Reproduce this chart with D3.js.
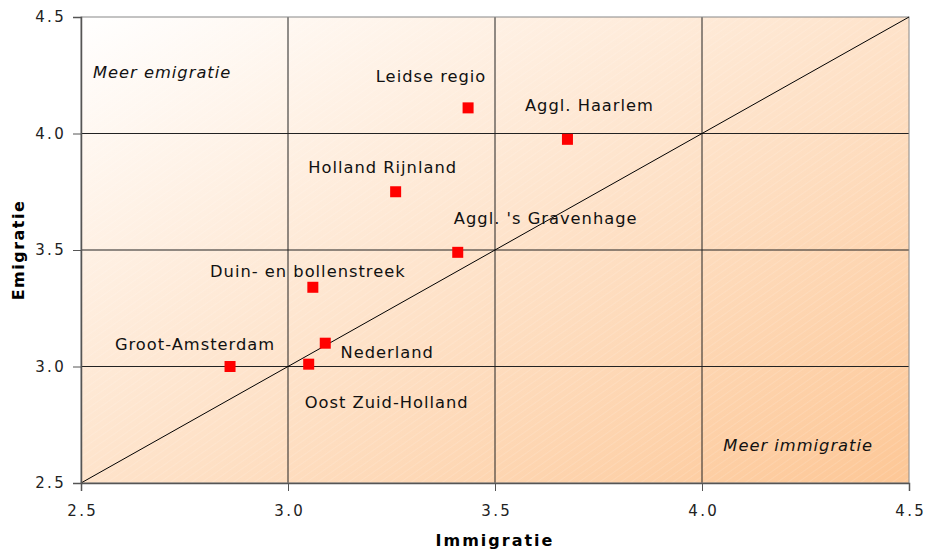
<!DOCTYPE html>
<html>
<head>
<meta charset="utf-8">
<script src="https://cdn.jsdelivr.net/npm/d3@7"></script>
<style>
  body { margin: 0; background: #fff; }
  text { font-family: "DejaVu Sans", Verdana, sans-serif; }
</style>
</head>
<body>
<svg id="chart"></svg>
<script>
// regions and their immigration / emigration figures
const regions = ['Groot-Amsterdam', 'Oost Zuid-Holland', 'Nederland', 'Duin- en bollenstreek',
    "Aggl. 's Gravenhage", 'Holland Rijnland', 'Leidse regio', 'Aggl. Haarlem'];
const immigratie = [2.86, 3.05, 3.09, 3.06, 3.41, 3.26, 3.435, 3.675];
const emigratie = [3.00, 3.01, 3.10, 3.34, 3.49, 3.75, 4.11, 3.975];
const xTicks = [2.5, 3.0, 3.5, 4.0, 4.5];
const yTicks = [2.5, 3.0, 3.5, 4.0, 4.5];

// where each label sits relative to its marker (px)
const labelOffsets = [[-35, -21], [78, 39], [62, 10], [-5, -15], [88, -33], [-13, -23], [-37, -30], [22, -33]];

const width = 926;
const height = 551;
const margin = {top: 17, right: 17, bottom: 68, left: 81};
const w = width - margin.left - margin.right;
const h = height - margin.top - margin.bottom;

const svg = d3.select('#chart').attr('width', width).attr('height', height);

const x = d3.scaleLinear().domain([2.5, 4.5]).range([0, w]);
const y = d3.scaleLinear().domain([2.5, 4.5]).range([h, 0]);

const defs = svg.append('defs');
const grad = defs.append('linearGradient')
    .attr('id', 'bg').attr('x1', '0').attr('y1', '0').attr('x2', '1').attr('y2', '1');
grad.append('stop').attr('offset', '0%').attr('stop-color', '#ffffff');
grad.append('stop').attr('offset', '100%').attr('stop-color', '#fdc796');

const hatch = defs.append('pattern')
    .attr('id', 'hatch').attr('width', 6).attr('height', 6)
    .attr('patternUnits', 'userSpaceOnUse')
    .attr('patternTransform', 'rotate(-35)');
hatch.append('line').attr('x1', 0).attr('y1', 0).attr('x2', 6).attr('y2', 0)
    .attr('stroke', '#ffffff').attr('stroke-opacity', 0.25).attr('stroke-width', 1);

const g = svg.append('g').attr('transform', `translate(${margin.left},${margin.top})`);

g.append('rect').attr('width', w).attr('height', h).attr('fill', 'url(#bg)');
g.append('rect').attr('width', w).attr('height', h).attr('fill', 'url(#hatch)');

// gridlines
g.append('g').selectAll('line').data(xTicks.slice(1, -1)).join('line')
    .attr('x1', d => x(d)).attr('x2', d => x(d)).attr('y1', 0).attr('y2', h)
    .attr('stroke', '#222').attr('stroke-width', 1);
g.append('g').selectAll('line').data(yTicks.slice(1, -1)).join('line')
    .attr('y1', d => y(d)).attr('y2', d => y(d)).attr('x1', 0).attr('x2', w)
    .attr('stroke', '#222').attr('stroke-width', 1);

g.append('rect').attr('width', w).attr('height', h)
    .attr('fill', 'none').attr('stroke', '#888').attr('stroke-width', 1);

// diagonal: equal immigration and emigration
g.append('line')
    .attr('x1', x(2.5)).attr('y1', y(2.5)).attr('x2', x(4.5)).attr('y2', y(4.5))
    .attr('stroke', '#000').attr('stroke-width', 1);

const xAxis = d3.axisBottom(x).tickValues(xTicks).tickFormat(d3.format('.1f')).tickSize(8).tickPadding(14);
const yAxis = d3.axisLeft(y).tickValues(yTicks).tickFormat(d3.format('.1f')).tickSize(8).tickPadding(7);

const gx = g.append('g').attr('transform', `translate(0,${h})`).call(xAxis);
const gy = g.append('g').call(yAxis);
[gx, gy].forEach(a => {
    a.select('.domain').attr('stroke', '#555').attr('stroke-width', 1.5);
    a.selectAll('.tick line').attr('stroke', '#555');
    a.selectAll('.tick text').attr('font-size', 15).attr('fill', '#222')
        .attr('letter-spacing', 2.3)
        .attr('font-family', '"DejaVu Sans", Verdana, sans-serif');
});
gx.selectAll('.tick text').attr('dx', 1.2);

const points = regions.map((r, i) => ({name: r, ix: immigratie[i], em: emigratie[i], off: labelOffsets[i]}));

g.append('g').selectAll('rect').data(points).join('rect')
    .attr('x', d => x(d.ix) - 5.5).attr('y', d => y(d.em) - 5.5)
    .attr('width', 11).attr('height', 11).attr('fill', '#ff0000');

g.append('g').selectAll('text').data(points).join('text')
    .attr('x', d => x(d.ix) + d.off[0]).attr('y', d => y(d.em) + d.off[1])
    .attr('text-anchor', 'middle').attr('dominant-baseline', 'middle')
    .attr('font-size', 16.3).attr('letter-spacing', 1).attr('fill', '#111')
    .text(d => d.name);

g.append('text').attr('x', 12).attr('y', 61)
    .attr('font-size', 16.3).attr('letter-spacing', 1).attr('font-style', 'italic').attr('fill', '#111')
    .text('Meer emigratie');
g.append('text').attr('x', w - 36).attr('y', 434)
    .attr('text-anchor', 'end')
    .attr('font-size', 16.3).attr('letter-spacing', 1).attr('font-style', 'italic').attr('fill', '#111')
    .text('Meer immigratie');

svg.append('text')
    .attr('x', margin.left + w / 2).attr('y', 546)
    .attr('text-anchor', 'middle').attr('font-size', 16).attr('letter-spacing', 2).attr('font-weight', 'bold')
    .text('Immigratie');
svg.append('text')
    .attr('transform', `translate(24,${margin.top + h / 2}) rotate(-90)`)
    .attr('text-anchor', 'middle').attr('font-size', 16).attr('letter-spacing', 1.5).attr('font-weight', 'bold')
    .text('Emigratie');
</script>
</body>
</html>
